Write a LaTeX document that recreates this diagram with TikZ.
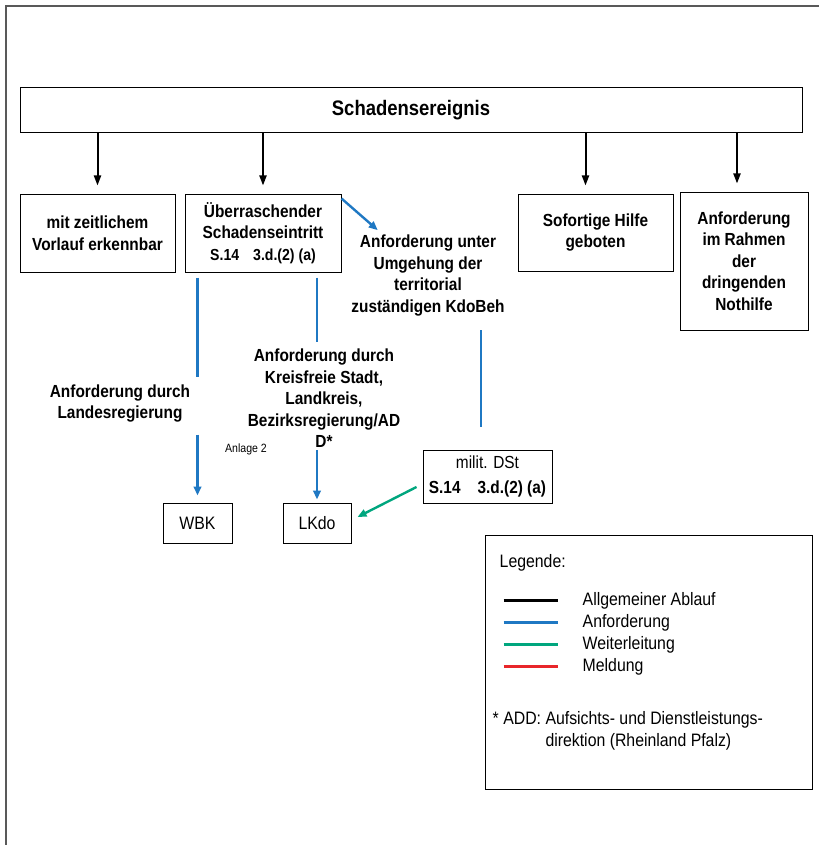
\documentclass[tikz,border=0pt]{standalone}
\usepackage{fontspec}
\setmainfont{Liberation Sans}[FakeStretch=0.88]
\usetikzlibrary{arrows.meta, positioning, calc}

\definecolor{reqblue}{RGB}{31,120,195}
\definecolor{fwdgreen}{RGB}{0,166,126}
\definecolor{repred}{RGB}{232,38,42}

\newcommand{\flowfont}{\fontsize{17.5}{21.5}\selectfont\bfseries}
\newcommand{\legfont}{\fontsize{18}{22}\selectfont}

\begin{document}
\begin{tikzpicture}[x=1pt, y=-1pt,
  box/.style={draw, line width=1pt, inner sep=0pt, align=center, font=\flowfont},
  lbl/.style={inner sep=0pt, align=center, font=\flowfont},
  flow/.style={-{Triangle[length=10pt, width=7pt]}, line width=2pt, shorten >=8pt},
  req/.style={reqblue, line width=2.4pt},
  reqarrow/.style={req, -{Triangle[length=9pt, width=7.5pt]}},
  fwd/.style={fwdgreen, line width=2.4pt, -{Triangle[length=9pt, width=7.5pt]}}
]
\useasboundingbox (0,0) rectangle (819,845);
\draw[gray!70!black, line width=2pt] (6,845) -- (6,6) -- (819,6);

% top row
\node[box, minimum width=782, minimum height=45,
      font=\fontsize{21}{25}\selectfont\bfseries] (ereignis) at (411,110.5) {Schadensereignis};
\node[box, minimum width=155, minimum height=78] (vorlauf) at (97.5,233)
  {mit zeitlichem\\Vorlauf erkennbar};
\node[box, minimum width=156, minimum height=78] (ueberr) at (263,233)
  {Überraschender\\Schadenseintritt\\{\fontsize{16}{20}\selectfont S.14\hspace{14pt}3.d.(2) (a)}};
\node[box, minimum width=155, minimum height=77] (sofort) at (595.5,232.5)
  {Sofortige Hilfe\\geboten};
\node[box, minimum width=128, minimum height=138] (nothilfe) at (744,261)
  {Anforderung\\im Rahmen\\der\\dringenden\\Nothilfe};

\foreach \n/\dx in {vorlauf/0, ueberr/0, sofort/-10, nothilfe/-7}
  \coordinate (t\n) at ([xshift=\dx pt]\n.north);
\foreach \n in {vorlauf, ueberr, sofort, nothilfe}
  \draw[flow] (t\n |- ereignis.south) -- (t\n);

% requests
\node[lbl] (kdo) at (428,275.5)
  {Anforderung unter\\Umgehung der\\territorial\\zuständigen KdoBeh};
\node[lbl] (landreg) at (120,403.5) {Anforderung durch\\Landesregierung};
\node[lbl] (kreis) at (324,398.5)
  {Anforderung durch\\Kreisfreie Stadt,\\Landkreis,\\Bezirksregierung/AD\\D*};
\node[font=\fontsize{12}{14}\selectfont, inner sep=0pt] (anlage) at (246,449) {Anlage 2};

\node[box, font=\fontsize{18}{22}\selectfont, minimum width=69, minimum height=40] (wbk) at (197.5,523) {WBK};
\node[box, font=\fontsize{18}{22}\selectfont, minimum width=68, minimum height=40] (lkdo) at (317,523) {LKdo};
\node[box, font=\fontsize{17.5}{25}\selectfont, minimum width=129, minimum height=53] (milit) at (487.5,476.5)
  {milit. DSt\\\textbf{S.14\hspace{17pt}3.d.(2) (a)}};

\draw[reqarrow] ([yshift=-5pt]ueberr.north east) -- ([xshift=26.5pt, yshift=4.7pt]kdo.north west);
\draw[req, shorten <=5pt, shorten >=7pt] (wbk |- ueberr.south) -- (wbk |- landreg.north);
\draw[reqarrow, shorten <=12pt, shorten >=7pt] (wbk |- landreg.south) -- (wbk);
\draw[req, shorten <=5pt, shorten >=7pt] (lkdo |- ueberr.south) -- (lkdo |- kreis.north);
\draw[reqarrow, shorten <=2pt, shorten >=3pt] (lkdo |- kreis.south) -- (lkdo);
\draw[req] ($(milit.north |- kdo.south)+(-6.5,14)$) -- ($(milit.north)+(-6.5,-23)$);
\draw[fwd] ([xshift=-6pt, yshift=-10.5pt]milit.west) -- ([xshift=6pt, yshift=6pt]lkdo.east);

% legend
\node[draw, line width=1pt, minimum width=327, minimum height=254] (legende) at (648.5,662) {};
\node[anchor=west, font=\legfont, inner sep=0pt] (legtitle) at ($(legende.north west)+(15,28)$) {Legende:};
\foreach \c/\t [count=\i] in {black/Allgemeiner Ablauf, reqblue/Anforderung, fwdgreen/Weiterleitung, repred/Meldung} {
  \node[anchor=west, font=\legfont, inner sep=0pt] (leg\i) at ($(legende.north west)+(98,44+22*\i)$) {\t};
  \draw[\c, line width=2.4pt] ([xshift=-79pt]leg\i.west) -- ([xshift=-25pt]leg\i.west);
}
\node[anchor=west, font=\legfont, inner sep=0pt, align=left] (fussnote) at ($(legende.north west)+(8,196)$)
  {* ADD: Aufsichts- und Dienstleistungs-\\\hphantom{* ADD: }direktion (Rheinland Pfalz)};
\end{tikzpicture}
\end{document}
